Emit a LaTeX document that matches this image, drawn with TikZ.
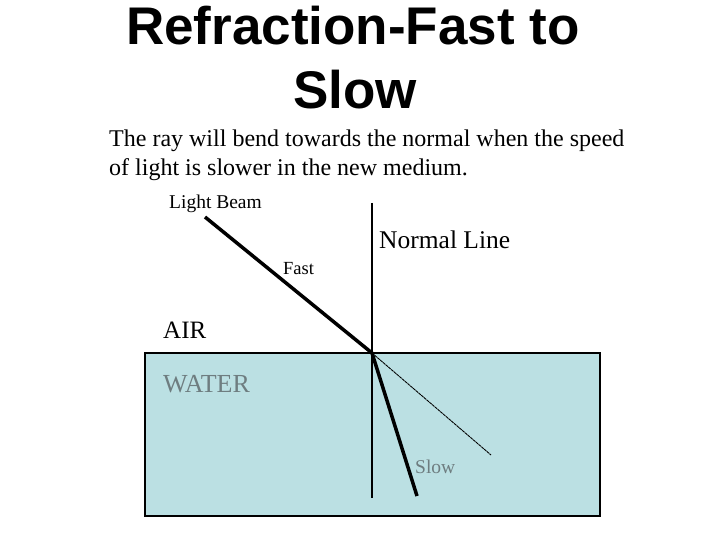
\documentclass[tikz,border=0pt]{standalone}
\usepackage{fontspec}
\setmainfont{Liberation Serif}
\newfontfamily\titlefont{Liberation Sans}
\begin{document}
\begin{tikzpicture}[x=1pt,y=-1pt,
  txt/.style={inner sep=0pt,anchor=base west,font=\fontsize{#1}{#1}\selectfont},
  beam/.style={line width=3.5pt}]
\useasboundingbox (0,0) rectangle (720,540);
\fill[white] (0,0) rectangle (720,540);
\draw[fill={rgb,255:red,187;green,224;blue,227},line width=1.2pt] (145,353) rectangle (600,516);
\node[txt=53,anchor=base,font=\titlefont\bfseries\fontsize{53}{53}\selectfont] (title) at (353,45) {Refraction-Fast to};
\node[txt=53,anchor=base,font=\titlefont\bfseries\fontsize{53}{53}\selectfont] (title2) at (355,109) {Slow};
\node[txt=24] (desc) at (109,147) {The ray will bend towards the normal when the speed};
\node[txt=24] (desc2) at (109,176) {of light is slower in the new medium.};
\node[txt=19.5] (lb) at (169,209) {Light Beam};
\node[txt=25.5] (nl) at (379,248) {Normal Line};
\node[txt=18.5] (fast) at (283,274) {Fast};
\node[txt=25] (air) at (163,338) {AIR};
\node[txt=26,text={rgb,255:red,110;green,125;blue,128}] (water) at (163,392) {WATER};
\node[txt=19.5,text={rgb,255:red,110;green,125;blue,128}] (slow) at (415,473) {Slow};
\coordinate (n1) at (372,203); \coordinate (n2) at (372,498);
\coordinate (s) at (205,217); \coordinate (p) at (372,353);
\coordinate (e) at (417,496); \coordinate (d) at (491,455);
\draw[line width=1.5pt] (n1) -- (n2);
\draw[beam] (s) -- (p) -- (e);
\draw[line width=0.9pt,dash pattern=on 3pt off 0.6pt] (p) -- (d);
\end{tikzpicture}
\end{document}
